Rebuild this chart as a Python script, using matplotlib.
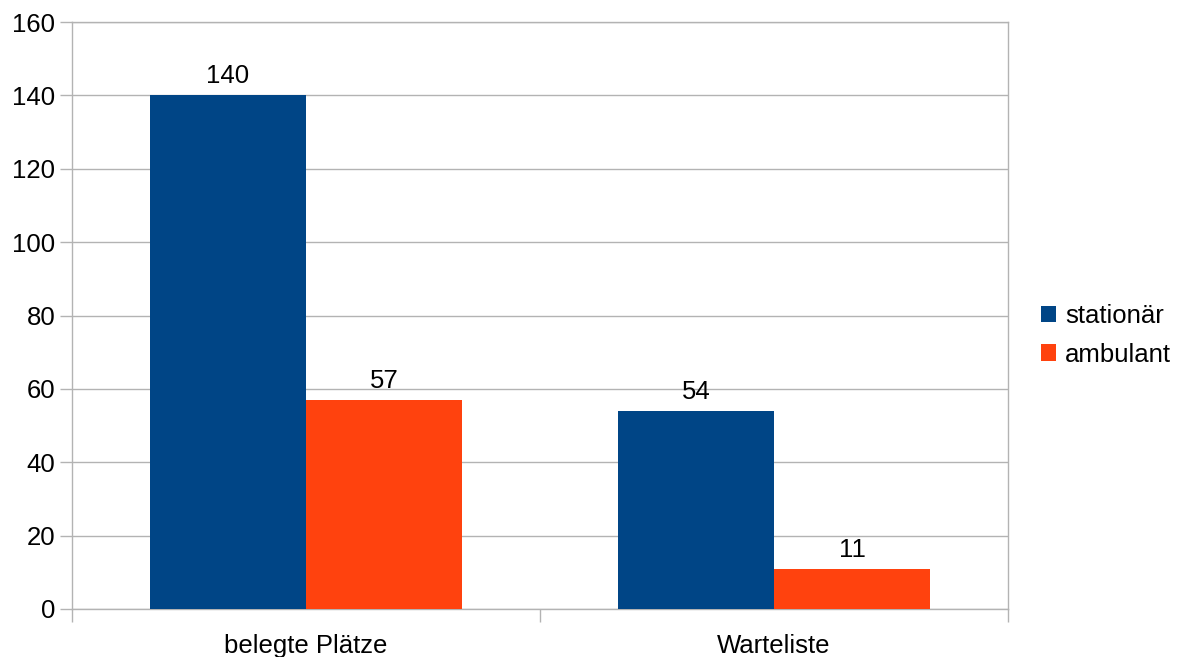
import matplotlib
matplotlib.use("Agg")
import matplotlib.pyplot as plt
import numpy as np

categories = ["belegte Plätze", "Warteliste"]
series_names = ["stationär", "ambulant"]
stationaer = [140, 54]
ambulant = [57, 11]
colors = ["#004586", "#ff420e"]

plt.rcParams['font.family'] = ['Liberation Sans', 'DejaVu Sans']
FS = 18.5

fig = plt.figure(figsize=(11.77, 6.57), dpi=100)
ax = fig.add_axes([72/1177, 48/657, 936/1177, 587/657])

x = np.arange(len(categories))
w = 1/3
grid_c = "#b3b3b3"
for i, (vals, name, c) in enumerate(zip([stationaer, ambulant], series_names, colors)):
    pos = x + (i - 0.5) * w
    ax.bar(pos, vals, width=w, color=c, label=name, zorder=3)
    for p, v in zip(pos, vals):
        ax.annotate(str(v), (p, v), xytext=(0, 5), textcoords="offset points",
                    ha="center", va="bottom", fontsize=FS, color="black")

ax.set_xlim(-0.5, 1.5)
ax.set_ylim(0, 160)
ax.set_yticks(range(0, 161, 20))
ax.set_yticklabels([str(v) for v in range(0, 161, 20)], fontsize=FS)
ax.set_xticks([-0.5, 0.5, 1.5], minor=False)
ax.set_xticklabels([])
ax.set_xticks(x, minor=True)
ax.set_xticklabels(categories, minor=True, fontsize=FS)
ax.tick_params(axis='x', which='minor', length=0, pad=18)
ax.tick_params(axis='x', which='major', length=9, color=grid_c, width=1.0)
ax.tick_params(axis='y', length=9, color=grid_c, width=1.0, pad=3)
ax.yaxis.grid(True, color=grid_c, linewidth=1, zorder=0)
for s in ax.spines.values():
    s.set_color(grid_c)
    s.set_linewidth(1.0)

leg = ax.legend(loc="center left", bbox_to_anchor=(1.035, 0.466), frameon=False,
                fontsize=FS, handlelength=0.6, handleheight=0.6, handletextpad=0.35,
                labelspacing=0.55, borderaxespad=0, borderpad=0)

fig.savefig("out.png", dpi=100)
